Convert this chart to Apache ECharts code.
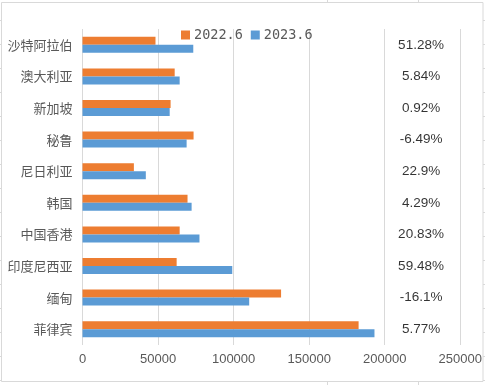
<!DOCTYPE html>
<html>
<head>
<meta charset="utf-8">
<script src="https://cdn.jsdelivr.net/npm/echarts@6/dist/echarts.min.js"></script>
<style>
html,body{margin:0;padding:0;background:#fff;}
#c{width:485px;height:385px;}
</style>
</head>
<body>
<div id="c"></div>
<script>
// Data (top-to-bottom order as shown)
var categories = ['沙特阿拉伯','澳大利亚','新加坡','秘鲁','尼日利亚','韩国','中国香港','印度尼西亚','缅甸','菲律宾'];
var values2022 = [48300, 61000, 58300, 73500, 34000, 69500, 64300, 62300, 131400, 182700];
var values2023 = [73300, 64300, 57700, 68900, 41900, 72200, 77400, 99100, 110300, 193200];
var growthLabels = ['51.28%','5.84%','0.92%','-6.49%','22.9%','4.29%','20.83%','59.48%','-16.1%','5.77%'];
var seriesNames = ['2022.6','2023.6'];
var xTicks = {min: 0, max: 250000, interval: 50000};

var chart = echarts.init(document.getElementById('c'), null, {renderer:'canvas'});
var labelAnchorX = 224000;
var gray = '#595959';

var stubs = [];
var rows = [];
for (var y = 20; y <= 380; y += 24) rows.push(y);
rows.forEach(function(y){
  stubs.push({type:'line', shape:{x1:0,y1:y+0.5,x2:1,y2:y+0.5}, style:{stroke:'#d9d9d9',lineWidth:1}, silent:true});
  stubs.push({type:'line', shape:{x1:483,y1:y+0.5,x2:485,y2:y+0.5}, style:{stroke:'#d9d9d9',lineWidth:1}, silent:true});
});
[327,418].forEach(function(x){
  stubs.push({type:'line', shape:{x1:x+0.5,y1:0,x2:x+0.5,y2:2}, style:{stroke:'#d9d9d9',lineWidth:1}, silent:true});
  stubs.push({type:'line', shape:{x1:x+0.5,y1:382,x2:x+0.5,y2:385}, style:{stroke:'#d9d9d9',lineWidth:1}, silent:true});
});
stubs.push({type:'rect', shape:{x:1.5,y:2.5,width:481.5,height:379}, style:{fill:'none',stroke:'#d9d9d9',lineWidth:1}, silent:true});

chart.setOption({
  animation: false,
  backgroundColor: '#fff',
  graphic: stubs,
  legend: {
    data: seriesNames,
    left: 176, top: 23,
    itemWidth: 9, itemHeight: 9, itemGap: 8,
    icon: 'rect',
    textStyle: {fontFamily: 'DejaVu Sans Mono', fontSize: 13.5, color: gray, padding:[0,0,0,-1]}
  },
  grid: {left: 82.5, right: 22.5, top: 29, bottom: 40, containLabel: false},
  xAxis: {
    type: 'value', min: xTicks.min, max: xTicks.max, interval: xTicks.interval,
    axisLine: {show:false}, axisTick: {show:false},
    splitLine: {show:true, lineStyle:{color:'#d9d9d9', width:1}},
    axisLabel: {color: gray, fontSize: 13, fontFamily: 'Liberation Sans', margin: 8,
      formatter: function(v){ return String(v); }}
  },
  yAxis: {
    type: 'category', data: categories, inverse: true,
    axisLine: {show:false}, axisTick: {show:false},
    splitLine: {show:false},
    axisLabel: {color: gray, fontSize: 13, fontFamily: 'Noto Sans CJK SC', margin: 10}
  },
  series: [
    {name: seriesNames[0], type:'bar', data: values2022, barWidth: 8, barGap: '0%', itemStyle:{color:'#ED7D31'}},
    {name: seriesNames[1], type:'bar', data: values2023, barWidth: 8, barGap: '0%', itemStyle:{color:'#5B9BD5'}},
    {name: 'growth', type:'scatter', symbolSize: 0, silent: true,
      data: categories.map(function(c,i){ return [labelAnchorX, c]; }),
      label: {show:true, position:'inside', color:'#000', fontSize:13.5, fontFamily:'Liberation Sans',
        formatter: function(p){ return growthLabels[p.dataIndex]; }}
    }
  ]
});
</script>
</body>
</html>
